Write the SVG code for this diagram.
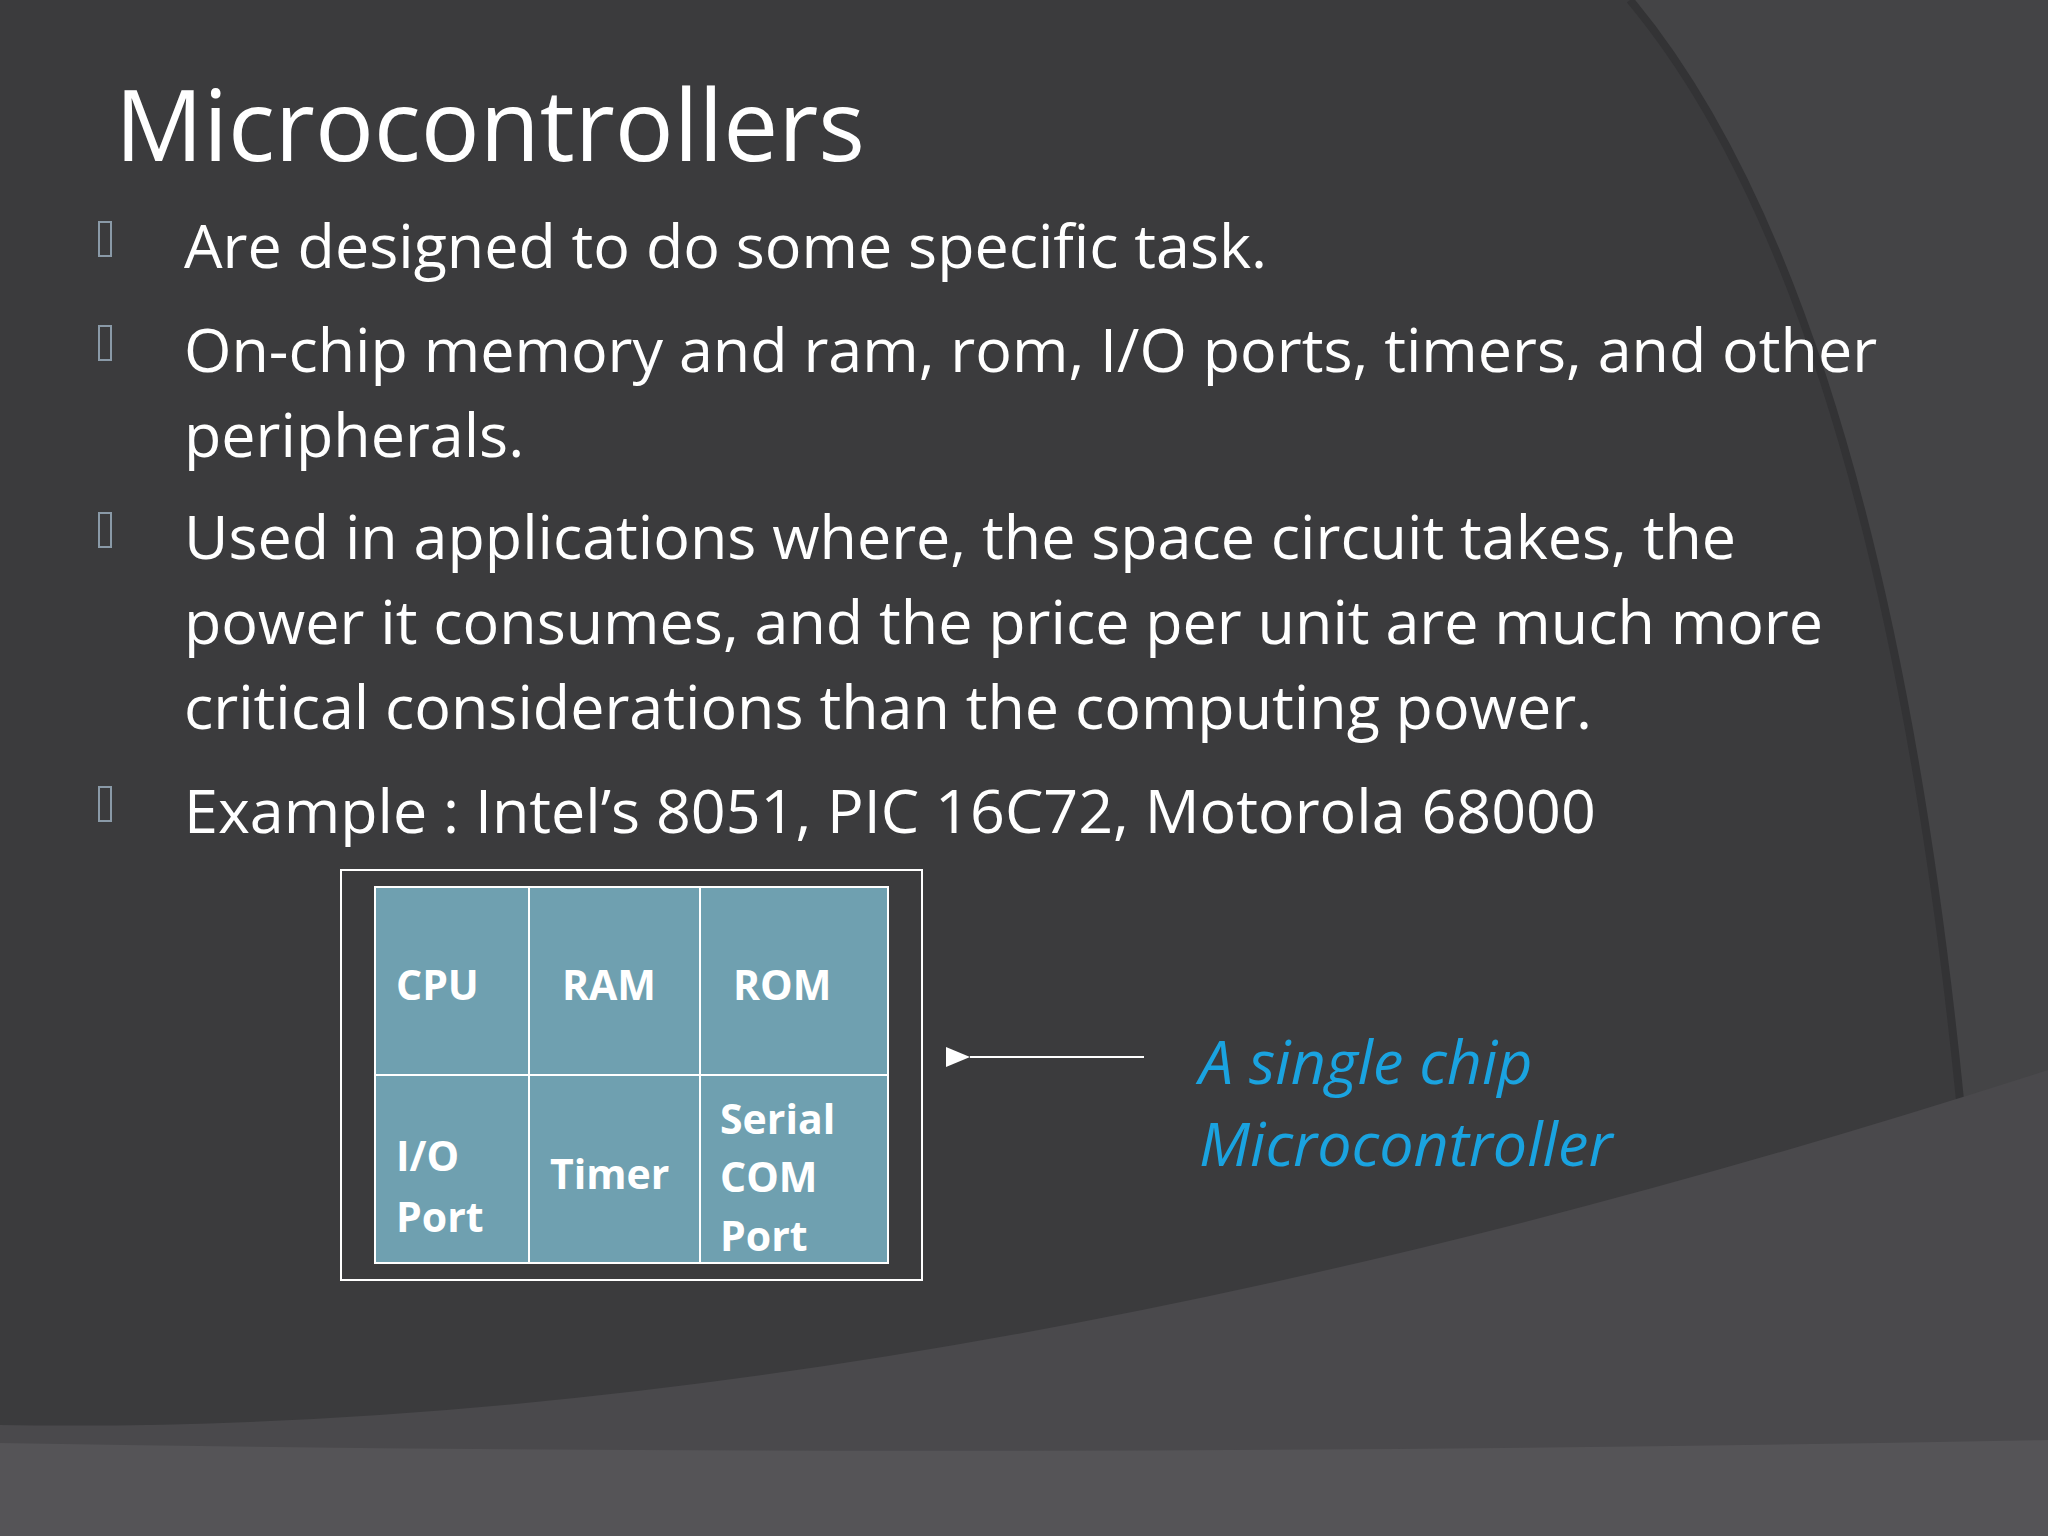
<svg xmlns="http://www.w3.org/2000/svg" width="2048" height="1536" viewBox="0 0 2048 1536">
<style>
.b{font-family:"Open Sans","Liberation Sans",sans-serif;font-size:61px;fill:#ffffff}
.c{font-family:"Open Sans","Liberation Sans",sans-serif;font-size:41px;font-weight:bold;fill:#ffffff}
.bl{fill:none;stroke:#8a9aa8;stroke-width:2}
.cell{fill:#6fa0b0;stroke:#ffffff;stroke-width:2}
</style>
<defs><marker id="ah" markerWidth="12" markerHeight="10" refX="0" refY="5" orient="auto"><path d="M12,0 L0,5 L12,10 Z" fill="#ffffff"/></marker></defs>
<rect width="2048" height="1536" fill="#3b3b3d"/>
<path d="M1630,0 Q1880,300 1960,1100 L2048,1100 L2048,0 Z" fill="#444446"/>
<path d="M1630,0 Q1880,300 1960,1100" fill="none" stroke="#333335" stroke-width="8"/>
<path d="M0,1425 Q900,1440 2048,1070 L2048,1536 L0,1536 Z" fill="#4a494c"/>
<path d="M0,1443 Q1000,1460 2048,1440 L2048,1536 L0,1536 Z" fill="#555457"/>
<text x="115" y="161" font-family="Open Sans, Liberation Sans, sans-serif" font-size="98" fill="#ffffff">Microcontrollers</text>
<g id="bullets">
<rect class="bl" x="99" y="222" width="12" height="34"/>
<rect class="bl" x="99" y="326" width="12" height="34"/>
<rect class="bl" x="99" y="513" width="12" height="34"/>
<rect class="bl" x="99" y="787" width="12" height="34"/>
<text class="b" x="184" y="268">Are designed to do some specific task.</text>
<text class="b" x="184" y="372">On-chip memory and ram, rom, I/O ports, timers, and other</text>
<text class="b" x="184" y="457">peripherals.</text>
<text class="b" x="184" y="559">Used in applications where, the space circuit takes, the</text>
<text class="b" x="184" y="644">power it consumes, and the price per unit are much more</text>
<text class="b" x="184" y="729">critical considerations than the computing power.</text>
<text class="b" x="184" y="833">Example   :  Intel’s 8051, PIC 16C72, Motorola 68000</text>
</g>
<g id="chip">
<rect x="341" y="870" width="581" height="410" fill="none" stroke="#ffffff" stroke-width="2"/>
<g id="cpu"><rect class="cell" x="375" y="887" width="154" height="188"/><text class="c" x="396" y="1000">CPU</text></g>
<g id="ram"><rect class="cell" x="529" y="887" width="171" height="188"/><text class="c" x="562" y="1000">RAM</text></g>
<g id="rom"><rect class="cell" x="700" y="887" width="188" height="188"/><text class="c" x="733" y="1000">ROM</text></g>
<g id="io"><rect class="cell" x="375" y="1075" width="154" height="188"/><text class="c" x="396" y="1171">I/O</text><text class="c" x="396" y="1232">Port</text></g>
<g id="timer"><rect class="cell" x="529" y="1075" width="171" height="188"/><text class="c" x="550" y="1189">Timer</text></g>
<g id="serial"><rect class="cell" x="700" y="1075" width="188" height="188"/><text class="c" x="720" y="1134">Serial</text><text class="c" x="720" y="1192">COM</text><text class="c" x="720" y="1251">Port</text></g>
</g>
<g id="connectors"><line x1="1144" y1="1057" x2="970" y2="1057" stroke="#ffffff" stroke-width="2" marker-end="url(#ah)"/></g>
<g id="label" font-family="Open Sans, Liberation Sans, sans-serif" font-size="61" font-style="italic" fill="#1aa3e0">
<text x="1199" y="1084">A single chip</text>
<text x="1199" y="1166">Microcontroller</text>
</g>
</svg>
